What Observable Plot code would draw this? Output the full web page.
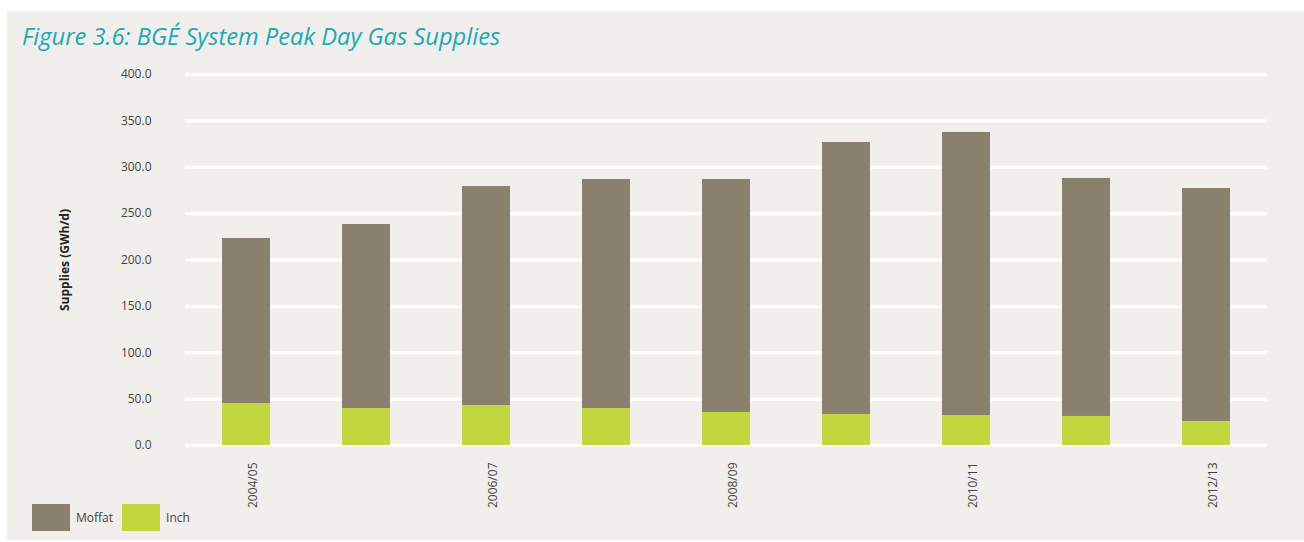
<!DOCTYPE html>
<html>
<head>
<meta charset="utf-8">
<script src="https://cdn.jsdelivr.net/npm/d3@7"></script>
<script src="https://cdn.jsdelivr.net/npm/@observablehq/plot@0.6"></script>
<style>
  html, body { margin: 0; padding: 0; background: #ffffff; }
  body { width: 1304px; height: 542px; position: relative; overflow: hidden; font-family: "Open Sans", "Noto Sans", sans-serif; }
  #panel { position: absolute; left: 7px; top: 11px; width: 1297px; height: 529px; background: #f0efeb; }
  #title { position: absolute; left: 15px; top: 9px; font-size: 23.7px; font-style: italic; color: #1fa8b4; white-space: nowrap; }
  #chart { position: absolute; left: 0; top: 50px; }
  #legend { position: absolute; left: 25px; top: 493px; display: flex; align-items: center; font-size: 12px; color: #444; }
  .sw { width: 38px; height: 27px; display: inline-block; margin-right: 6px; }
  .item { display: flex; align-items: center; }
</style>
</head>
<body>
<div id="panel">
  <div id="title">Figure 3.6: BGÉ System Peak Day Gas Supplies</div>
  <div id="chart"></div>
  <div id="legend"></div>
</div>
<script>
const years = ["2004/05","2005/06","2006/07","2007/08","2008/09","2009/10","2010/11","2011/12","2012/13"];
const tickYears = ["2004/05","2006/07","2008/09","2010/11","2012/13"];
const inch = [45.3, 39.9, 43.1, 39.9, 35.6, 33.4, 32.3, 31.3, 25.9];
const moffat = [177.9, 198.4, 236.1, 246.9, 251.2, 293.3, 305.2, 256.6, 251.2];
const series = ["Moffat", "Inch"];
const colors = ["#8a806e", "#c1d73d"];
const yTicks = [0, 50, 100, 150, 200, 250, 300, 350, 400];

const rows = [];
years.forEach((yr, i) => {
  rows.push({year: yr, series: "Inch", value: inch[i]});
  rows.push({year: yr, series: "Moffat", value: moffat[i]});
});

const plot = Plot.plot({
  width: 1297,
  height: 470,
  marginLeft: 178,
  marginRight: 37,
  marginTop: 13,
  marginBottom: 86,
  style: {background: "transparent", fontFamily: "'Open Sans', sans-serif", fontSize: "12px", color: "#444", overflow: "visible"},
  x: {type: "band", domain: years, paddingInner: 0.6, paddingOuter: 0.28, label: null},
  y: {domain: [0, 400], label: null},
  color: {domain: series, range: colors},
  marks: [
    Plot.ruleY(yTicks, {stroke: "#ffffff", strokeWidth: 3, strokeOpacity: 1}),
    Plot.barY(rows, Plot.stackY({order: ["Inch", "Moffat"]}, {x: "year", y: "value", fill: "series"})),
    Plot.axisY({ticks: yTicks, tickSize: 0, tickPadding: 34, tickFormat: d => d.toFixed(1), label: null, fill: "#444"}),
    Plot.axisX({ticks: tickYears, tickSize: 0, tickRotate: -90, tickPadding: 17, dx: 7, label: null, fill: "#444"}),
    Plot.text(["Supplies (GWh/d)"], {frameAnchor: "left", textAnchor: "middle", dx: -120, rotate: -90, fontWeight: "bold", fontSize: 12, fill: "#222", text: d => d})
  ]
});
document.getElementById("chart").appendChild(plot);

const legend = document.getElementById("legend");
series.forEach((s, i) => {
  const it = document.createElement("div");
  it.className = "item";
  it.innerHTML = `<span class="sw" style="background:${colors[i]}"></span><span style="margin-right:${i === 0 ? 9 : 0}px">${s}</span>`;
  legend.appendChild(it);
});
</script>
</body>
</html>
